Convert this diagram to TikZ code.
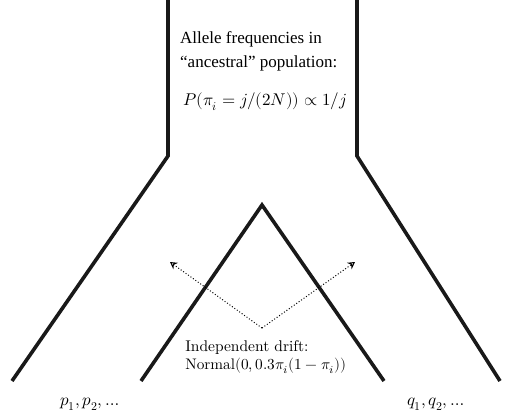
\documentclass[tikz,border=0pt]{standalone}
\usepackage{fontspec}
\usepackage{unicode-math}
\setmainfont{Liberation Serif}
\setmathfont{Latin Modern Math}
\newfontfamily\lmfont{Latin Modern Roman}
\usetikzlibrary{arrows.meta}
\begin{document}
\begin{tikzpicture}[x=1pt,y=-1pt,
  wall/.style={line width=3.6pt,line join=miter,color=black!90},
  drift/.style={dotted,line width=1pt,-{Stealth[open,length=7pt,width=8pt]}},
  lbl/.style={inner sep=0pt,anchor=base west}]
\useasboundingbox (0,0) rectangle (507,414);
% outer tube
\coordinate (lt) at (168,0);
\coordinate (lb) at (168,156);
\coordinate (lf) at (12,381);
\coordinate (rt) at (357,0);
\coordinate (rb) at (357,156);
\coordinate (rf) at (500,381);
\draw[wall] (lt) -- (lb) -- (lf);
\draw[wall] (rt) -- (rb) -- (rf);
% inner split
\coordinate (apex) at (262,205);
\coordinate (ilf) at (141,381);
\coordinate (irf) at (384,381);
\draw[wall] (ilf) -- (apex) -- (irf);
% drift arrows
\coordinate (dsrc) at (262,328);
\coordinate (dl) at (170,262);
\coordinate (dr) at (355,262);
\draw[drift] (dsrc) -- (dl);
\draw[drift] (dsrc) -- (dr);
% texts
\node[lbl] (t1) at (180,44) {\fontsize{17}{20}\selectfont Allele frequencies in};
\node[lbl] (t2) at (180,68) {\fontsize{17}{20}\selectfont “ancestral” population:};
\node[lbl] (t3) at (183,106) {\fontsize{17}{20}\selectfont $P(\pi_i=j/(2N))\propto 1/j$};
\node[lbl,scale=1.55] (d1) at (185,352) {\lmfont Independent drift:};
\node[lbl,scale=1.53] (d2) at (185,370) {\lmfont Normal$(0,0.3\pi_i(1-\pi_i))$};
\node[inner sep=0pt,anchor=base] (p) at (90,406) {\fontsize{17}{20}\selectfont $p_1,p_2,\ldots$};
\node[inner sep=0pt,anchor=base] (q) at (436,406) {\fontsize{17}{20}\selectfont $q_1,q_2,\ldots$};
\end{tikzpicture}
\end{document}
